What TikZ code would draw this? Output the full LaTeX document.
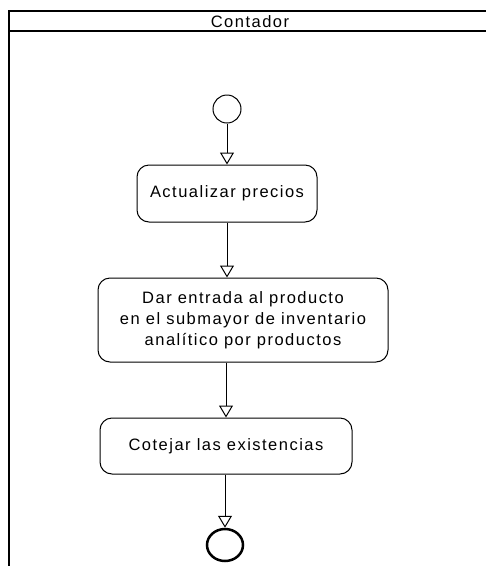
\documentclass[tikz,border=0pt]{standalone}
\usepackage{fontspec}
\setmainfont[LetterSpace=9]{Liberation Sans}
\usetikzlibrary{arrows.meta,shapes.geometric}
\tikzset{
  act/.style={draw, line width=1pt, rounded corners=12pt, align=center, inner sep=0pt,
    font=\fontsize{16.5}{21}\selectfont},
  flow/.style={draw, line width=1pt, -{Triangle[open, length=12pt, width=14pt, line width=1pt]}},
}
\begin{document}
\begin{tikzpicture}[x=1pt,y=-1pt]
\useasboundingbox (0,0) rectangle (486,566);
% swimlane
\draw[line width=1.5pt] (9,570) -- (9,11) -- (490,11);
\draw[line width=1.2pt] (9,31) -- (490,31);
\node[font=\fontsize{16.5}{18}\selectfont] (lane) at (250,21.5) {Contador};
% nodes
\node[draw, circle, line width=1pt, minimum size=28pt, inner sep=0pt] (start) at (227,109) {};
\node[act, minimum width=180pt, minimum height=57pt] (a1) at (227,193.5) {Actualizar precios};
\node[act, minimum width=290pt, minimum height=84pt] (a2) at (243,320) {Dar entrada al producto\\en el submayor de inventario\\analítico por productos};
\node[act, minimum width=252pt, minimum height=56pt] (a3) at (226,446) {Cotejar las existencias};
\node[draw, ellipse, line width=2.5pt, minimum width=36pt, minimum height=32pt, inner sep=0pt] (end) at (225,545) {};
% connectors
\draw[flow] (start) -- (start |- a1.north);
\draw[flow] (a1.south -| start) -- (a2.north -| start);
\draw[flow] (a2.south -| a3) -- (a3.north);
\draw[flow] (a3.south -| end) -- (end.north);
\end{tikzpicture}
\end{document}
